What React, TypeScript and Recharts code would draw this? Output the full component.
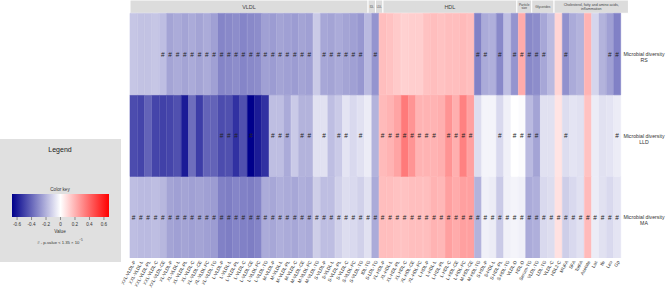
import React from 'react';
import { ComposedChart, Bar, XAxis, YAxis, Cell, LabelList, ReferenceArea } from 'recharts';

const categories = [
  'XXL-VLDL-P', 'XXL-VLDL-L', 'XXL-VLDL-PL', 'XXL-VLDL-C', 'XXL-VLDL-CE',
  'XL-VLDL-P', 'XL-VLDL-L', 'XL-VLDL-PL', 'XL-VLDL-C', 'XL-VLDL-CE', 'XL-VLDL-FC', 'XL-VLDL-TG',
  'L-VLDL-P', 'L-VLDL-L', 'L-VLDL-PL', 'L-VLDL-C', 'L-VLDL-CE', 'L-VLDL-FC', 'L-VLDL-TG',
  'M-VLDL-P', 'M-VLDL-L', 'M-VLDL-PL', 'M-VLDL-C', 'M-VLDL-CE', 'M-VLDL-FC', 'M-VLDL-TG',
  'S-VLDL-P', 'S-VLDL-L', 'S-VLDL-PL', 'S-VLDL-C', 'S-VLDL-FC', 'S-VLDL-TG',
  'IDL-TG', 'S-LDL-TG',
  'XL-HDL-P', 'XL-HDL-L', 'XL-HDL-PL', 'XL-HDL-C', 'XL-HDL-CE', 'XL-HDL-FC',
  'L-HDL-P', 'L-HDL-L', 'L-HDL-PL', 'L-HDL-C', 'L-HDL-CE', 'L-HDL-FC',
  'M-HDL-CE', 'M-HDL-TG', 'S-HDL-P', 'S-HDL-L', 'S-HDL-PL', 'S-HDL-TG',
  'VLDL-D', 'HDL-D',
  'Serum-TG', 'VLDL-TG', 'LDL-TG',
  'VLDL-C', 'HDL2-C', 'MUFA', 'SFA', 'TotFA', 'Acetate', 'Lac', 'Ile', 'Leu', 'Gp',
];

const rsValues = [
  -0.15, -0.16, -0.16, -0.15, -0.17,
  -0.24, -0.22, -0.24, -0.22, -0.24, -0.22, -0.25,
  -0.32, -0.31, -0.30, -0.32, -0.31, -0.30,
  -0.25, -0.26, -0.24, -0.25, -0.26, -0.24, -0.25,
  -0.14,
  -0.23, -0.24, -0.22, -0.24, -0.25, -0.27,
  -0.18, -0.28,
  0.17, 0.16, 0.14, 0.12, 0.13, 0.13, 0.16, 0.17, 0.16, 0.17, 0.17, 0.18, 0.17,
  -0.33, -0.22, -0.21, -0.31, -0.17, -0.28, 0.22, -0.31, -0.30, -0.23, -0.18, 0.11, -0.29, -0.22, -0.20, 0.20, -0.11, -0.20, -0.25, -0.33,
];

const lldValues = [
  -0.47, -0.49, -0.41, -0.49, -0.50, -0.49, -0.46, -0.60, -0.38, -0.51, -0.41, -0.41, -0.47, -0.46, -0.54, -0.46, -0.67, -0.60, -0.54,
  -0.17, -0.17, -0.22, -0.14, -0.20, -0.20, -0.08, -0.08, -0.17, -0.14, -0.07, -0.10, -0.08, -0.05, -0.20,
  0.18, 0.20, 0.24, 0.35, 0.28, 0.20, 0.20, 0.20, 0.21, 0.28, 0.21, 0.33, 0.25,
  -0.09, -0.03, -0.03, -0.10, -0.04, 0.0, -0.01, -0.18, -0.24, -0.08, -0.08, 0.07, -0.09, -0.07, -0.08, 0.16, -0.05, -0.08, -0.07, -0.05,
];

const maValues = [
  -0.17, -0.18, -0.18, -0.17, -0.19,
  -0.24, -0.25, -0.24, -0.25, -0.24, -0.25, -0.26,
  -0.33, -0.34, -0.32, -0.33, -0.34, -0.32,
  -0.22, -0.23, -0.21, -0.22, -0.23, -0.21, -0.22,
  -0.13, -0.17, -0.17, -0.12, -0.09, -0.10, -0.12, -0.08, -0.22,
  0.17, 0.17, 0.16, 0.16, 0.17, 0.17, 0.17, 0.20, 0.19, 0.25, 0.22, 0.25, 0.25,
  -0.20, -0.04, -0.05, -0.14, -0.04, -0.03, -0.04, -0.22, -0.21, -0.10, -0.09, 0.08, -0.13, -0.10, -0.08, 0.18, -0.05, -0.08, -0.10, -0.07,
];

// '#' = p-value < 1.35e-5, '.' = not significant
const rsMarks =
  '....' + '#####################' + '.' + '######' + '.' + '#' + '.............' +
  '##' + '.' + '#' + '.' + '#####' + '..' + '#' + '.....' + '##';
const lldMarks =
  '............' + '###' + '.' + '#' + '..' + '###' + '.' + '##' + '.' + '#' + '.' + '##' + '.' + '#' + '..' +
  '########' + '.' + '####' + '...' + '#' + '.' + '####' + '...' + '#' + '......' + '#';
const maMarks =
  '##########' + '##########' + '##########' + '##########' + '##########' + '##########' + '#######';

const rowNames = ['RS', 'LLD', 'MA'];
const groupNames = [['VLDL'], ['IDL'], ['LDL'], ['HDL'], ['Particle', 'size'], ['Glycerides'], ['Cholesterol, fatty and amino acids,', 'inflammation']];
const groupSizes = [32, 1, 1, 18, 2, 3, 10];
const groupFont = [5.5, 2.6, 2.6, 5.5, 3.2, 3.2, 3.6];
const legendTicks = [-0.6, -0.4, -0.2, 0, 0.2, 0.4, 0.6];

const LIMIT = 0.67;
const FONT = 'Liberation Sans, Arial, Helvetica, sans-serif';

function colorFor(v: number): string {
  const t = Math.min(1, Math.abs(v) / LIMIT);
  if (v < 0) {
    const r = Math.round(255 * (1 - t));
    const b = Math.round(255 - (255 - 139) * t);
    return `rgb(${r},${r},${b})`;
  }
  const g = Math.round(255 * (1 - t));
  return `rgb(255,${g},${g})`;
}

const data = categories.map((name, i) => ({
  name,
  ma: 1,
  lld: 1,
  rs: 1,
  maV: maValues[i],
  lldV: lldValues[i],
  rsV: rsValues[i],
  maM: maMarks[i] === '#' ? '#' : '',
  lldM: lldMarks[i] === '#' ? '#' : '',
  rsM: rsMarks[i] === '#' ? '#' : '',
}));

const groupStarts: number[] = [];
groupSizes.reduce((acc, s) => {
  groupStarts.push(acc);
  return acc + s;
}, 0);

const HEADER_TOP = 3.163;

const MarkLabel = (props: any) => {
  const { x, y, width, height, value } = props;
  if (!value) return null;
  return (
    <text
      x={x + width / 2}
      y={y + height / 2}
      textAnchor="middle"
      dominantBaseline="central"
      fontSize={6.5}
      fill="#222"
      fontFamily={FONT}
    >
      {value}
    </text>
  );
};

const headerLabel = (lines: string[], fs: number) => (props: any) => {
  const vb = props.viewBox || {};
  const cx = vb.x + vb.width / 2;
  const cy = vb.y + vb.height / 2;
  const n = lines.length;
  return (
    <text textAnchor="middle" dominantBaseline="central" fontSize={fs} fill="#444" fontFamily={FONT}>
      {lines.map((l, i) => (
        <tspan key={i} x={cx} y={cy + (i - (n - 1) / 2) * fs * 1.15}>
          {l}
        </tspan>
      ))}
    </text>
  );
};

const XTick = (props: any) => {
  const { x, payload } = props;
  return (
    <g transform={`translate(${x + 1},${261})`}>
      <text
        x={0}
        y={0}
        textAnchor="end"
        dominantBaseline="central"
        transform="rotate(-62)"
        fontSize={4.6}
        fill="#333"
        fontFamily={FONT}
      >
        {payload.value}
      </text>
    </g>
  );
};

const RowTick = (props: any) => {
  const { y, payload } = props;
  const idx = payload.value < 1 ? 2 : payload.value < 2 ? 1 : 0;
  return (
    <text textAnchor="middle" dominantBaseline="central" fontSize={5.2} fill="#333" fontFamily={FONT}>
      <tspan x={644} y={y}>Microbial diversity</tspan>
      <tspan x={644} y={y + 6}>{rowNames[idx]}</tspan>
    </text>
  );
};

const Legend = () => {
  const x0 = 12;
  const x1 = 109;
  const scale = (v: number) => x0 + ((v + LIMIT) / (2 * LIMIT)) * (x1 - x0);
  return (
    <svg width={130} height={297} style={{ position: 'absolute', left: 0, top: 0 }}>
      <defs>
        <linearGradient id="ck" x1="0" x2="1" y1="0" y2="0">
          <stop offset="0" stopColor="rgb(0,0,139)" />
          <stop offset="0.5" stopColor="#ffffff" />
          <stop offset="1" stopColor="#ff0000" />
        </linearGradient>
      </defs>
      <rect x={0} y={139} width={121} height={123} fill="#e0e0e0" />
      <text x={60} y={149} textAnchor="middle" dominantBaseline="central" fontSize={7} fill="#222" fontFamily={FONT}>
        Legend
      </text>
      <text x={60} y={189} textAnchor="middle" dominantBaseline="central" fontSize={4.6} fill="#333" fontFamily={FONT}>
        Color key
      </text>
      <rect x={x0} y={194} width={x1 - x0} height={23} fill="url(#ck)" />
      {legendTicks.map((t) => (
        <g key={t}>
          <line x1={scale(t)} x2={scale(t)} y1={217} y2={220} stroke="#333" strokeWidth={0.5} />
          <text x={scale(t)} y={224} textAnchor="middle" dominantBaseline="central" fontSize={4.6} fill="#333" fontFamily={FONT}>
            {t === 0 ? '0' : t < 0 ? `-${Math.abs(t).toFixed(1)}` : t.toFixed(1)}
          </text>
        </g>
      ))}
      <text x={60} y={231} textAnchor="middle" dominantBaseline="central" fontSize={4.6} fill="#333" fontFamily={FONT}>
        Value
      </text>
      <text x={60} y={242} textAnchor="middle" dominantBaseline="central" fontSize={4.2} fill="#333" fontFamily={FONT}>
        {'# - p-value < 1.35 \u00d7 10'}
        <tspan dy={-1.8} fontSize={3}>{'\u22125'}</tspan>
      </text>
    </svg>
  );
};

export default function App() {
  return (
    <div style={{ position: 'absolute', left: 0, top: 0, width: 667, height: 297, background: '#fff' }}>
      <Legend />
      <div style={{ position: 'absolute', left: 0, top: 0 }}>
        <ComposedChart
          width={667}
          height={297}
          data={data}
          margin={{ top: 0, right: 0, bottom: 0, left: 130 }}
          barCategoryGap={0}
          barGap={0}
        >
          <XAxis
            xAxisId="cat"
            dataKey="name"
            interval={0}
            height={39}
            axisLine={false}
            tickLine={false}
            tick={<XTick />}
          />
          <XAxis xAxisId="num" type="number" domain={[0, categories.length]} hide allowDataOverflow />
          <YAxis
            yAxisId="y"
            orientation="right"
            type="number"
            domain={[0, HEADER_TOP]}
            ticks={[0.5, 1.5, 2.5]}
            width={46}
            axisLine={false}
            tickLine={false}
            allowDataOverflow
            tick={<RowTick />}
          />
          <Bar dataKey="ma" stackId="s" xAxisId="cat" yAxisId="y" isAnimationActive={false}>
            {data.map((d, i) => (
              <Cell key={i} fill={colorFor(d.maV)} stroke={colorFor(d.maV)} strokeWidth={0.6} />
            ))}
            <LabelList dataKey="maM" content={<MarkLabel />} />
          </Bar>
          <Bar dataKey="lld" stackId="s" xAxisId="cat" yAxisId="y" isAnimationActive={false}>
            {data.map((d, i) => (
              <Cell key={i} fill={colorFor(d.lldV)} stroke={colorFor(d.lldV)} strokeWidth={0.6} />
            ))}
            <LabelList dataKey="lldM" content={<MarkLabel />} />
          </Bar>
          <Bar dataKey="rs" stackId="s" xAxisId="cat" yAxisId="y" isAnimationActive={false}>
            {data.map((d, i) => (
              <Cell key={i} fill={colorFor(d.rsV)} stroke={colorFor(d.rsV)} strokeWidth={0.6} />
            ))}
            <LabelList dataKey="rsM" content={<MarkLabel />} />
          </Bar>
          {groupNames.map((lines, gi) => (
            <ReferenceArea
              key={gi}
              xAxisId="num"
              yAxisId="y"
              x1={groupStarts[gi]}
              x2={groupStarts[gi] + groupSizes[gi]}
              y1={3}
              y2={HEADER_TOP}
              fill="#dcdcdc"
              fillOpacity={1}
              stroke="#ffffff"
              strokeWidth={1}
              ifOverflow="visible"
              label={headerLabel(lines, groupFont[gi])}
            />
          ))}
        </ComposedChart>
      </div>
    </div>
  );
}
